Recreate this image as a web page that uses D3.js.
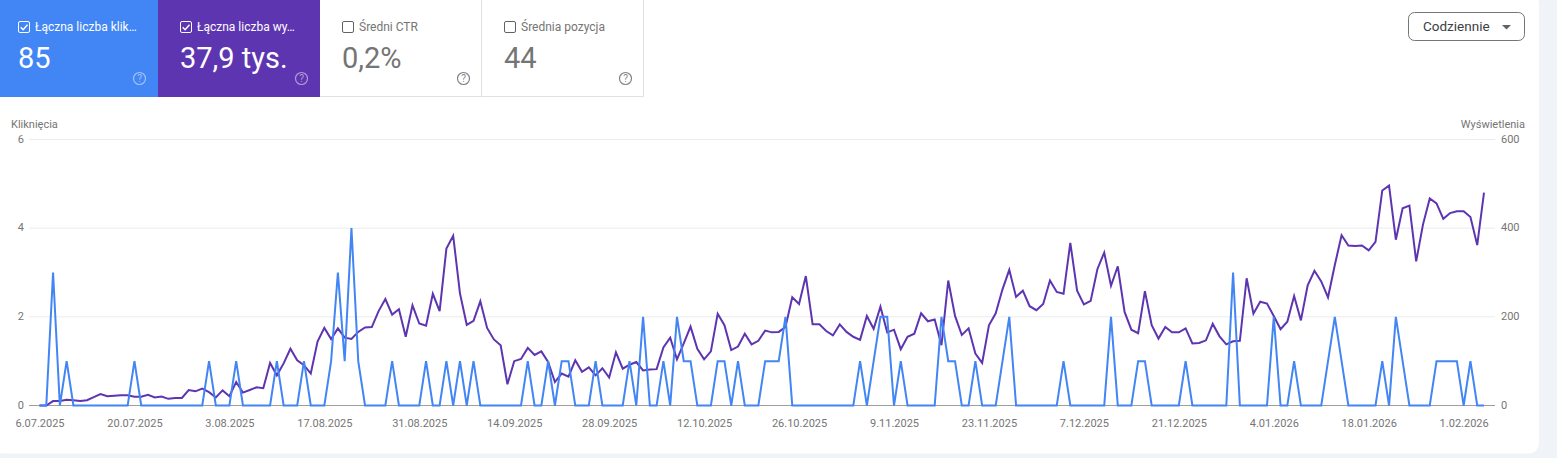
<!DOCTYPE html>
<html>
<head>
<meta charset="utf-8">
<script src="https://cdn.jsdelivr.net/npm/d3@7"></script>
<style>
  html, body { margin: 0; padding: 0; background: #f0f4f9; overflow: hidden; }
  svg { display: block; font-family: Roboto, sans-serif; }
  .axis path, .axis line { display: none; }
  .axis text { font-family: Roboto, sans-serif; font-size: 11px; fill: #757575; }
</style>
</head>
<body>
<svg id="chart" width="1557" height="458"></svg>
<script>
/* DATA */

const startDay = '2025-07-06'
const dateTicks = ['6.07.2025', '20.07.2025', '3.08.2025', '17.08.2025', '31.08.2025', '14.09.2025', '28.09.2025',
  '12.10.2025', '26.10.2025', '9.11.2025', '23.11.2025', '7.12.2025', '21.12.2025', '4.01.2026', '18.01.2026', '1.02.2026']
const clickTicks = [0, 2, 4, 6]
const impressionTicks = [0, 200, 400, 600]

const clicks = [
  0, 0, 3, 0, 1, 0, 0, 0, 0, 0, 0, 0, 0, 0, 1, 0, 0, 0, 0, 0,
  0, 0, 0, 0, 0, 1, 0, 0, 0, 1, 0, 0, 0, 0, 0, 1, 0, 0, 0, 1,
  0, 0, 0, 1, 3, 1, 4, 1, 0, 0, 0, 0, 1, 0, 0, 0, 0, 1, 0, 0,
  1, 0, 1, 0, 1, 0, 0, 0, 0, 0, 0, 0, 1, 0, 0, 1, 0, 1, 1, 0,
  0, 0, 1, 0, 0, 0, 0, 1, 0, 2, 0, 0, 1, 0, 2, 1, 1, 0, 0, 0,
  1, 1, 0, 1, 0, 0, 0, 1, 1, 1, 2, 0, 0, 0, 0, 0, 0, 0, 0, 0,
  0, 1, 0, 1, 2, 2, 0, 1, 0, 0, 0, 0, 0, 2, 1, 1, 0, 0, 1, 0,
  0, 0, 1, 2, 0, 0, 0, 0, 0, 0, 0, 1, 0, 0, 0, 0, 0, 0, 2, 0,
  0, 0, 1, 1, 0, 0, 0, 0, 0, 1, 0, 0, 0, 0, 0, 0, 3, 0, 0, 0,
  0, 0, 2, 0, 0, 1, 0, 0, 0, 0, 1, 2, 1, 0, 0, 0, 0, 0, 1, 0,
  2, 1, 0, 0, 0, 0, 1, 1, 1, 1, 0, 1, 0, 0
]

const impressions = [
  0, 0, 10, 10, 13, 12, 10, 12, 19, 26, 21, 22, 23, 23, 20, 20, 24, 18, 20, 15,
  17, 17, 35, 32, 38, 30, 18, 34, 21, 53, 29, 35, 41, 39, 96, 68, 95, 128, 102, 91,
  72, 144, 175, 150, 174, 153, 150, 166, 176, 177, 213, 240, 205, 217, 155, 226, 185, 180, 252, 213,
  354, 383, 253, 182, 191, 235, 175, 149, 136, 48, 100, 105, 130, 114, 122, 98, 53, 72, 65, 102,
  76, 86, 68, 84, 63, 120, 83, 92, 98, 79, 81, 82, 131, 153, 104, 140, 178, 128, 104, 122,
  207, 181, 125, 133, 162, 138, 146, 169, 165, 166, 177, 244, 229, 292, 183, 183, 168, 158, 183, 166,
  155, 148, 202, 173, 223, 165, 171, 127, 155, 162, 208, 190, 194, 136, 282, 202, 159, 174, 117, 96,
  181, 208, 262, 306, 245, 259, 224, 215, 229, 282, 256, 252, 367, 259, 228, 236, 308, 345, 270, 314,
  211, 171, 163, 258, 181, 151, 177, 165, 165, 174, 140, 141, 147, 184, 156, 138, 145, 146, 287, 207,
  234, 230, 202, 172, 189, 247, 192, 271, 304, 280, 244, 317, 384, 361, 360, 361, 350, 369, 485, 496,
  374, 445, 451, 325, 408, 467, 456, 421, 434, 438, 438, 425, 362, 480
]

// The four metric tiles above the chart
const tileLabels = ['Łączna liczba klik…', 'Łączna liczba wy…', 'Średni CTR', 'Średnia pozycja']
const tileValues = ['85', '37,9 tys.', '0,2%', '44']
const tileChecked = [true, true, false, false]
const tileFills = ['#4285f4', '#5e35b1', 'white', 'white']
const tileEdges = [0, 158, 320, 482, 644]
const tileInsets = [18, 22, 22, 22]

/* COLOURS */

const blue = '#4285f4'
const purple = '#5e35b1'
const grid = '#ebebeb'
const baseline = '#9e9e9e'
const greyText = '#757575'

/* FUNCTIONS */

const svg = d3.select('#chart')

function drawCard () {
  // White card, runs off the top and left of the window
  svg.append('rect')
    .attr('x', -7)
    .attr('y', -6)
    .attr('width', 1546)
    .attr('height', 459.5)
    .attr('rx', 10)
    .attr('fill', 'white')
}

function drawTiles () {
  tileLabels.forEach((label, i) => {
    const x0 = tileEdges[i]
    const w = tileEdges[i + 1] - x0
    const on = tileChecked[i]
    const ink = on ? 'white' : greyText
    const inset = tileInsets[i]
    const g = svg.append('g').attr('transform', `translate(${x0},0)`)

    g.append('rect')
      .attr('width', w)
      .attr('height', 97)
      .attr('fill', tileFills[i])

    if (!on) {
      g.append('path')
        .attr('d', `M${w - 0.5},0V96.5H0`)
        .attr('fill', 'none')
        .attr('stroke', '#e0e0e0')
    }

    // Checkbox
    const boxX = inset + 0.5
    g.append('rect')
      .attr('x', boxX)
      .attr('y', 21.5)
      .attr('width', 11)
      .attr('height', 11)
      .attr('rx', 1.5)
      .attr('fill', 'none')
      .attr('stroke', on ? 'white' : '#5f6368')
      .attr('stroke-width', 1)
    if (on) {
      g.append('path')
        .attr('d', `M${boxX + 2.2},27.2l2.4,2.5l4.4,-5`)
        .attr('fill', 'none')
        .attr('stroke', 'white')
        .attr('stroke-width', 1.4)
    }

    g.append('text')
      .attr('x', inset + 17)
      .attr('y', 31)
      .attr('font-size', 12)
      .attr('fill', ink)
      .text(label)

    g.append('text')
      .attr('x', inset)
      .attr('y', 68)
      .attr('font-size', 29)
      .attr('fill', ink)
      .text(tileValues[i])

    // Help icon
    g.append('circle')
      .attr('cx', w - 18.5)
      .attr('cy', 78.5)
      .attr('r', 6)
      .attr('fill', 'none')
      .attr('stroke', on ? 'white' : greyText)
      .attr('stroke-width', 1.2)
      .attr('stroke-opacity', on ? 0.5 : 0.9)
    g.append('text')
      .attr('x', w - 18.5)
      .attr('y', 82)
      .attr('text-anchor', 'middle')
      .attr('font-size', 10)
      .attr('fill', ink)
      .attr('fill-opacity', on ? 0.5 : 0.9)
      .text('?')
  })
}

function drawDropdown () {
  svg.append('rect')
    .attr('x', 1408.5)
    .attr('y', 12.5)
    .attr('width', 116)
    .attr('height', 28)
    .attr('rx', 6)
    .attr('fill', 'white')
    .attr('stroke', '#757575')
  svg.append('text')
    .attr('x', 1423)
    .attr('y', 31)
    .attr('font-size', 13.5)
    .attr('fill', '#3c4043')
    .text('Codziennie')
  svg.append('path')
    .attr('d', 'M1502,25h9l-4.5,4.5z')
    .attr('fill', '#5f6368')
}

function drawChart () {
  const parseDay = d3.utcParse('%Y-%m-%d')
  const parseTick = d3.utcParse('%-d.%m.%Y')
  const first = parseDay(startDay)
  const days = clicks.map((d, i) => d3.utcDay.offset(first, i))

  const x = d3.scaleUtc()
    .domain([first, days[days.length - 1]])
    .range([39.5, 1484])
  const yClicks = d3.scaleLinear().domain([0, 6]).range([405.5, 139.5])
  const yImpressions = d3.scaleLinear().domain([0, 600]).range([405.5, 139.5])

  // Gridlines
  svg.append('g').selectAll('line')
    .data(clickTicks.slice(1))
    .enter().append('line')
    .attr('x1', 29)
    .attr('x2', 1495)
    .attr('y1', d => yClicks(d))
    .attr('y2', d => yClicks(d))
    .attr('stroke', grid)

  // Axes, text only
  const formatTick = d3.utcFormat('%-d.%m.%Y')
  svg.append('g')
    .attr('class', 'axis')
    .attr('transform', 'translate(0,419)')
    .call(d3.axisBottom(x)
      .tickValues(dateTicks.map(parseTick))
      .tickFormat(formatTick)
      .tickSize(0)
      .tickPadding(0))

  svg.append('g')
    .attr('class', 'axis')
    .attr('transform', 'translate(24,0)')
    .call(d3.axisLeft(yClicks).tickValues(clickTicks).tickFormat(d3.format('d')).tickSize(0).tickPadding(0))
    .selectAll('text').attr('dy', '0.25em')

  svg.append('g')
    .attr('class', 'axis')
    .attr('transform', 'translate(1501,0)')
    .call(d3.axisRight(yImpressions).tickValues(impressionTicks).tickFormat(d3.format('d')).tickSize(0).tickPadding(0))
    .selectAll('text').attr('dy', '0.25em')

  svg.append('text')
    .attr('x', 11)
    .attr('y', 128)
    .attr('font-size', 11)
    .attr('fill', greyText)
    .text('Kliknięcia')
  svg.append('text')
    .attr('x', 1525)
    .attr('y', 128)
    .attr('text-anchor', 'end')
    .attr('font-size', 11)
    .attr('fill', greyText)
    .text('Wyświetlenia')

  // Zero line
  svg.append('line')
    .attr('x1', 29)
    .attr('x2', 1495)
    .attr('y1', yClicks(0))
    .attr('y2', yClicks(0))
    .attr('stroke', baseline)

  const impressionLine = d3.line()
    .x((d, i) => x(days[i]))
    .y(d => yImpressions(d))
  const clickLine = d3.line()
    .x((d, i) => x(days[i]))
    .y(d => yClicks(d))

  svg.append('path')
    .datum(impressions)
    .attr('d', impressionLine)
    .attr('fill', 'none')
    .attr('stroke', purple)
    .attr('stroke-width', 2)

  svg.append('path')
    .datum(clicks)
    .attr('d', clickLine)
    .attr('fill', 'none')
    .attr('stroke', blue)
    .attr('stroke-width', 2)
}

/* CALL FUNCTIONS */

drawCard()
drawTiles()
drawDropdown()
drawChart()
</script>
</body>
</html>
